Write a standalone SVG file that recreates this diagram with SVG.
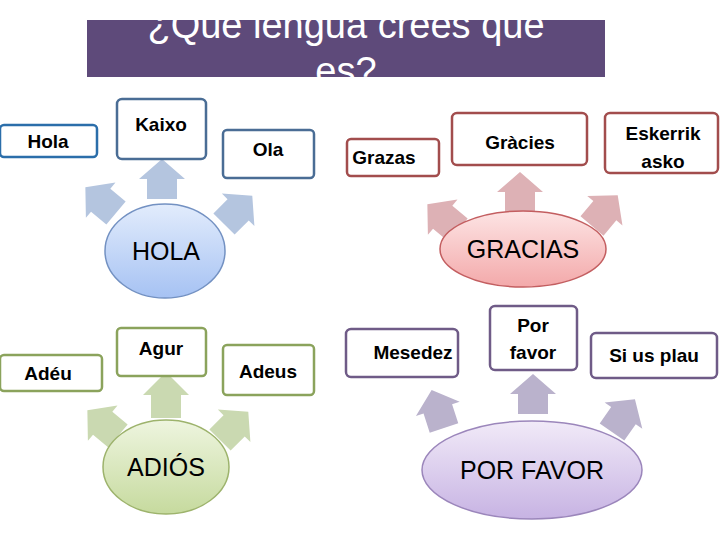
<svg xmlns="http://www.w3.org/2000/svg" width="720" height="540" viewBox="0 0 720 540">
<defs>
<clipPath id="tc"><rect x="0" y="20" width="720" height="70"/></clipPath>
<linearGradient id="gb" x1="0" y1="0" x2="0" y2="1"><stop offset="0" stop-color="#e2ecfc"/><stop offset="1" stop-color="#a6c2f3"/></linearGradient>
<linearGradient id="gr" x1="0" y1="0" x2="0" y2="1"><stop offset="0" stop-color="#fde4e4"/><stop offset="1" stop-color="#f3a9aa"/></linearGradient>
<linearGradient id="gg" x1="0" y1="0" x2="0" y2="1"><stop offset="0" stop-color="#eef5df"/><stop offset="1" stop-color="#c6da9e"/></linearGradient>
<linearGradient id="gp" x1="0" y1="0" x2="0" y2="1"><stop offset="0" stop-color="#f1eaf8"/><stop offset="1" stop-color="#c7b3e3"/></linearGradient>
<path id="ar" d="M-15,0 V-20 H-23 L0,-40 L23,-20 H15 V0 Z"/>
</defs>
<style>
.bx{fill:#fff;stroke-width:2.5}
.b{stroke:#4a6d95}.r{stroke:#a24d4d}.g{stroke:#8ba35c}.p{stroke:#6f5b87}
.t{font-family:"Liberation Sans",Arial,sans-serif;font-weight:bold;font-size:19px;text-anchor:middle;fill:#000}
.e{font-family:"Liberation Sans",Arial,sans-serif;font-size:25px;text-anchor:middle;fill:#000}
</style>
<rect x="87" y="20" width="518" height="57" fill="#5e4a7a"/>
<g clip-path="url(#tc)" font-family="Liberation Sans,Arial,sans-serif" font-size="38" fill="#fff" text-anchor="middle">
<text x="346" y="38">¿Qué lengua crees que</text>
<text x="346" y="84">es?</text>
</g>
<g id="connectors">
<g fill="#b4c5df">
<use href="#ar" transform="translate(162,199)"/>
<use href="#ar" transform="translate(116,213) rotate(-50)"/>
<use href="#ar" transform="translate(224,224) rotate(45)"/>
</g>
<g fill="#ddb1b5">
<use href="#ar" transform="translate(458,230) rotate(-50)"/>
<use href="#ar" transform="translate(520,212)"/>
<use href="#ar" transform="translate(592,226) rotate(40)"/>
</g>
<g fill="#cad9b1">
<use href="#ar" transform="translate(118,436) rotate(-50)"/>
<use href="#ar" transform="translate(166,418) scale(1,1.15)"/>
<use href="#ar" transform="translate(220,440) rotate(45)"/>
</g>
<g fill="#bab2cc">
<use href="#ar" transform="translate(444,428) rotate(-18)"/>
<use href="#ar" transform="translate(533,414)"/>
<use href="#ar" transform="translate(612,432) rotate(35)"/>
</g>
</g>
<g id="hola"><ellipse cx="165" cy="251" rx="60" ry="47" fill="url(#gb)" stroke="#7391c2" stroke-width="1.5"/><text class="e" x="166" y="260">HOLA</text></g>
<g id="gracias"><ellipse cx="523" cy="249" rx="83" ry="38" fill="url(#gr)" stroke="#c35e60" stroke-width="1.5"/><text class="e" x="523" y="258">GRACIAS</text></g>
<g id="adios"><ellipse cx="166" cy="467" rx="63" ry="47" fill="url(#gg)" stroke="#9db36c" stroke-width="1.5"/><text class="e" x="166" y="476">ADIÓS</text></g>
<g id="porfavor"><ellipse cx="532" cy="470" rx="110" ry="49" fill="url(#gp)" stroke="#9b86bb" stroke-width="1.5"/><text class="e" x="532" y="479">POR FAVOR</text></g>
<g id="n-hola"><rect class="bx" x="0" y="125" width="97" height="32" rx="4" stroke="#2b6eaa"/><text class="t" x="48" y="148">Hola</text></g>
<g id="n-kaixo"><rect class="bx b" x="117" y="99" width="89" height="60" rx="5"/><text class="t" x="161" y="131">Kaixo</text></g>
<g id="n-ola"><rect class="bx b" x="223" y="130" width="91" height="48" rx="4"/><text class="t" x="268" y="156">Ola</text></g>
<g id="n-grazas"><rect class="bx r" x="347" y="139" width="92" height="37" rx="4"/><text class="t" x="384" y="164">Grazas</text></g>
<g id="n-gracies"><rect class="bx r" x="452" y="113" width="135" height="52" rx="5"/><text class="t" x="520" y="149">Gràcies</text></g>
<g id="n-eskerrik"><rect class="bx r" x="605" y="113" width="113" height="60" rx="5"/><text class="t" x="663" y="140">Eskerrik</text><text class="t" x="663" y="168">asko</text></g>
<g id="n-adeu"><rect class="bx g" x="0" y="355" width="102" height="36" rx="4"/><text class="t" x="48" y="380">Adéu</text></g>
<g id="n-agur"><rect class="bx g" x="117" y="328" width="89" height="48" rx="4"/><text class="t" x="161" y="355">Agur</text></g>
<g id="n-adeus"><rect class="bx g" x="223" y="345" width="91" height="50" rx="4"/><text class="t" x="268" y="378">Adeus</text></g>
<g id="n-mesedez"><rect class="bx p" x="346" y="329" width="112" height="48" rx="5"/><text class="t" x="413" y="359">Mesedez</text></g>
<g id="n-porfavor"><rect class="bx p" x="490" y="306" width="87" height="64" rx="5"/><text class="t" x="533" y="332">Por</text><text class="t" x="533" y="359">favor</text></g>
<g id="n-siusplau"><rect class="bx p" x="591" y="333" width="126" height="45" rx="5"/><text class="t" x="654" y="362">Si us plau</text></g>
</svg>
